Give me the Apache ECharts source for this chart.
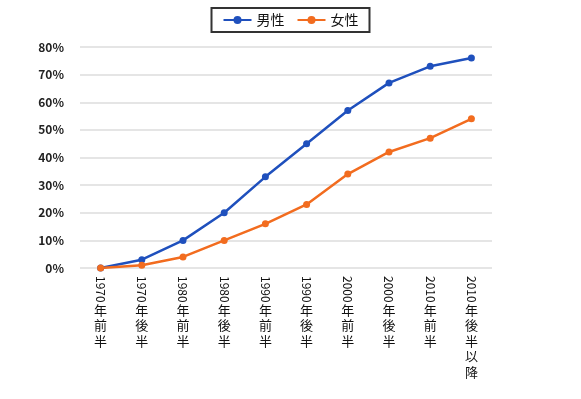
<!DOCTYPE html>
<html>
<head>
<meta charset="utf-8">
<script src="https://cdn.jsdelivr.net/npm/echarts@6/dist/echarts.min.js"></script>
<style>
  html, body { margin: 0; padding: 0; background: #fff; }
  #main { width: 581px; height: 399px; }
</style>
</head>
<body>
<div id="main"></div>
<script>
var years = ['1970', '1970', '1980', '1980', '1990', '1990', '2000', '2000', '2010', '2010'];
var halves = ['年前半', '年後半', '年前半', '年後半', '年前半', '年後半', '年前半', '年後半', '年前半', '年後半以降'];
var categories = years.map(function(y, i) { return y + halves[i]; });
var male = [0, 3, 10, 20, 33, 45, 57, 67, 73, 76];
var female = [0, 1, 4, 10, 16, 23, 34, 42, 47, 54];

var font = '"Noto Sans CJK JP", "Noto Sans", sans-serif';
var chart = echarts.init(document.getElementById('main'), null, { renderer: 'canvas' });

var option = {
    animation: false,
    textStyle: { fontFamily: font },
    legend: {
        top: 8,
        left: 'center',
        padding: [5, 11],
        itemGap: 12,
        itemWidth: 28,
        itemHeight: 10,
        borderColor: '#333',
        borderWidth: 2,
        textStyle: { fontSize: 14, color: '#111', fontFamily: font },
        data: ['男性', '女性']
    },
    grid: { left: 80, right: 89, top: 47, bottom: 131, containLabel: false },
    xAxis: [{
        type: 'category',
        data: categories,
        boundaryGap: true,
        axisLine: { show: false },
        axisTick: { show: false },
        axisLabel: {
            rotate: -90,
            margin: 8,
            fontSize: 12,
            color: '#111',
            fontFamily: font,
            formatter: function(v, i) { return years[i]; }
        }
    }, {
        type: 'category',
        data: categories,
        boundaryGap: true,
        position: 'bottom',
        axisLine: { show: false },
        axisTick: { show: false },
        splitLine: { show: false },
        axisLabel: {
            margin: 34,
            fontSize: 13,
            lineHeight: 15.5,
            color: '#111',
            fontFamily: font,
            interval: 0,
            formatter: function(v, i) { return halves[i].split('').join('\n'); }
        }
    }],
    yAxis: {
        type: 'value',
        min: 0,
        max: 80,
        interval: 10,
        axisLine: { show: false },
        axisTick: { show: false },
        splitLine: { lineStyle: { color: '#dcdcdc', width: 1.5 } },
        axisLabel: {
            margin: 16,
            fontSize: 12,
            fontWeight: 'bold',
            color: '#222',
            fontFamily: font,
            formatter: '{value}%'
        }
    },
    series: [{
        name: '男性',
        type: 'line',
        data: male,
        symbol: 'circle',
        symbolSize: 7,
        color: '#1f50bd',
        lineStyle: { width: 2.5 }
    }, {
        name: '女性',
        type: 'line',
        data: female,
        symbol: 'circle',
        symbolSize: 7,
        color: '#f26c1f',
        lineStyle: { width: 2.5 }
    }]
};
chart.setOption(option);
</script>
</body>
</html>
